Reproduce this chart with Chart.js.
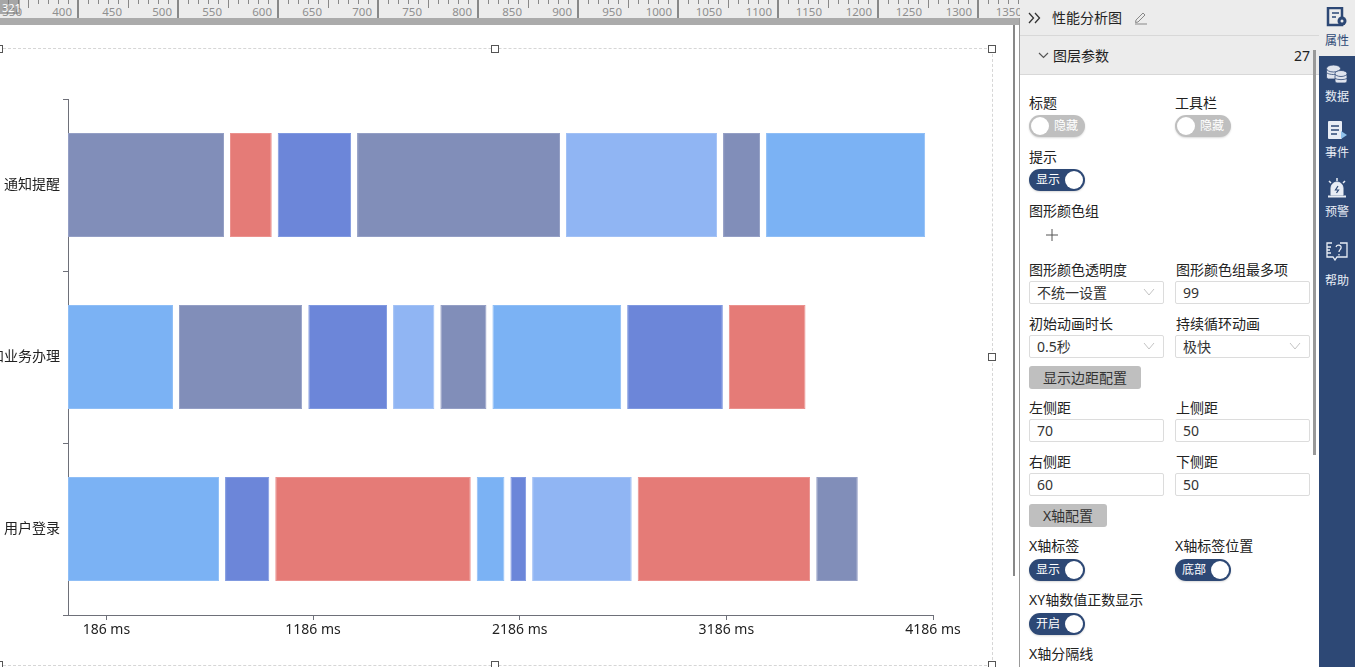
<!DOCTYPE html>
<html>
<head>
<meta charset="utf-8">
<title>性能分析图</title>
<script src="https://cdn.jsdelivr.net/npm/chart.js@4"></script>
<style>
html, body { margin: 0; padding: 0; width: 1355px; height: 667px; overflow: hidden; background: #fff; }
body { font-family: "Noto Sans", "Noto Sans CJK SC", sans-serif; font-size: 14px; color: #222; position: relative; }
#chart { position: absolute; left: 0; top: 0; display: block; }
.abs { position: absolute; }
#ruler { position: absolute; left: 0; top: 0; width: 1020px; height: 18px; background: #ececec; overflow: hidden; }
#rulerBar { position: absolute; left: 0; top: 18px; width: 1020px; height: 7px; background: #ababab; }
#rulerCorner { position: absolute; left: 0; top: 0; width: 20px; height: 14px; background: rgba(120,120,120,.6); color: #fff; font-size: 11px; line-height: 16px; padding-left: 2px; box-sizing: border-box; }
.rt { position: absolute; top: 0; background: #888; }
.rl { position: absolute; top: 3px; font-size: 11.5px; line-height: 18px; color: #8f8f8f; width: 40px; text-align: right; }
.dashH { position: absolute; height: 0; border-top: 1px dashed #d6d6d6; }
.dashV { position: absolute; width: 0; border-left: 1px dashed #d6d6d6; }
.handle { position: absolute; width: 6px; height: 6px; border: 1px solid #555; background: #fff; }
#side { position: absolute; left: 1020px; top: 0; width: 299px; height: 667px; background: #fff; }
.lbl { position: absolute; line-height: 18px; white-space: nowrap; color: #222; }
.head { position: absolute; left: 0; width: 299px; background: #ececec; border-bottom: 1px solid #d8d8d8; }
.tog { position: absolute; width: 56px; height: 22px; border-radius: 11px; color: #fff; font-size: 12px; line-height: 22px; box-shadow: 0 1px 2px rgba(0,0,0,.15); }
.tog.on { background: #2d4875; }
.tog.off { background: #bfbfbf; }
.tog i { position: absolute; top: 2px; width: 18px; height: 18px; border-radius: 50%; background: #fff; }
.tog.on i { right: 2px; }
.tog.off i { left: 2px; }
.tog.on span { position: absolute; left: 7px; }
.tog.off span { position: absolute; right: 7px; }
.inp { position: absolute; width: 135px; height: 23px; box-sizing: border-box; border: 1px solid #dcdcdc; border-radius: 2px; line-height: 21px; padding-left: 7px; background: #fff; color: #333; }
.inp svg { position: absolute; right: 8px; top: 6px; }
.btn { position: absolute; height: 23px; background: #bfbfbf; border-radius: 3px; text-align: center; line-height: 23px; color: #333; }
#nav { position: absolute; left: 1319px; top: 0; width: 36px; height: 667px; background: #2d4875; }
#navTop { position: absolute; left: 0; top: 0; width: 36px; height: 56px; background: #ececec; }
.navt { position: absolute; left: 0; width: 36px; text-align: center; font-size: 12px; line-height: 16px; color: #e8edf5; }
.navi { position: absolute; left: 7px; }
</style>
</head>
<body>
<canvas id="chart" width="1013" height="667"></canvas>

<div id="ruler"></div>
<div id="rulerBar"></div>
<div id="rulerCorner">321</div>

<div class="dashH" style="left:3px;top:48px;width:989px"></div>
<div class="dashV" style="left:992px;top:49px;height:616px"></div>
<div class="dashH" style="left:3px;top:665px;width:989px"></div>
<div class="handle" style="left:-5px;top:45px"></div>
<div class="handle" style="left:491px;top:45px"></div>
<div class="handle" style="left:988px;top:45px"></div>
<div class="handle" style="left:988px;top:353px"></div>
<div class="handle" style="left:-5px;top:661px"></div>
<div class="handle" style="left:491px;top:661px"></div>
<div class="handle" style="left:988px;top:661px"></div>

<div class="abs" style="left:1013px;top:25px;width:2px;height:551px;background:#888"></div>
<div class="abs" style="left:1019px;top:18px;width:1px;height:649px;background:#999"></div>

<div id="side">
  <div class="head" style="top:0;height:35px"></div>
  <div class="head" style="top:36px;height:38px"></div>
  <svg class="abs" style="left:8px;top:12px" width="13" height="12" fill="none" stroke="#333" stroke-width="1.3"><path d="M1 1l4.5 5-4.5 5M7 1l4.5 5-4.5 5"/></svg>
  <div class="lbl" style="left:32px;top:9px">性能分析图</div>
  <svg class="abs" style="left:114px;top:10px" width="15" height="15" fill="none" stroke="#888" stroke-width="1"><path d="M2 10l7-7 2 2-7 7-2.500.5zM1 14h12"/></svg>
  <svg class="abs" style="left:18px;top:52px" width="11" height="7" fill="none" stroke="#555" stroke-width="1.2"><path d="M1 1l4.500 4.500L10 1"/></svg>
  <div class="lbl" style="left:33px;top:47px">图层参数</div>
  <div class="lbl" style="left:274px;top:47px">27</div>
  <div class="abs" style="left:293px;top:50px;width:3px;height:405px;background:#999"></div>

  <div class="lbl" style="left:9px;top:94px">标题</div>
  <div class="lbl" style="left:155px;top:94px">工具栏</div>
  <div class="tog off" style="left:9px;top:115px"><i></i><span>隐藏</span></div>
  <div class="tog off" style="left:155px;top:115px"><i></i><span>隐藏</span></div>

  <div class="lbl" style="left:9px;top:148px">提示</div>
  <div class="tog on" style="left:9px;top:169px"><span>显示</span><i></i></div>

  <div class="lbl" style="left:9px;top:202px">图形颜色组</div>
  <svg class="abs" style="left:26px;top:229px" width="12" height="12" stroke="#555" stroke-width="1"><path d="M6 0v12M0 6h12"/></svg>

  <div class="lbl" style="left:9px;top:261px">图形颜色透明度</div>
  <div class="lbl" style="left:156px;top:261px">图形颜色组最多项</div>
  <div class="inp" style="left:9px;top:281px">不统一设置<svg width="12" height="8" fill="none" stroke="#c4c4c4"><path d="M1 1l5 6 5-6"/></svg></div>
  <div class="inp" style="left:155px;top:281px">99</div>

  <div class="lbl" style="left:9px;top:315px">初始动画时长</div>
  <div class="lbl" style="left:156px;top:315px">持续循环动画</div>
  <div class="inp" style="left:9px;top:335px">0.5秒<svg width="12" height="8" fill="none" stroke="#c4c4c4"><path d="M1 1l5 6 5-6"/></svg></div>
  <div class="inp" style="left:155px;top:335px">极快<svg width="12" height="8" fill="none" stroke="#c4c4c4"><path d="M1 1l5 6 5-6"/></svg></div>

  <div class="btn" style="left:9px;top:366px;width:112px">显示边距配置</div>

  <div class="lbl" style="left:9px;top:399px">左侧距</div>
  <div class="lbl" style="left:156px;top:399px">上侧距</div>
  <div class="inp" style="left:9px;top:419px">70</div>
  <div class="inp" style="left:155px;top:419px">50</div>

  <div class="lbl" style="left:9px;top:453px">右侧距</div>
  <div class="lbl" style="left:156px;top:453px">下侧距</div>
  <div class="inp" style="left:9px;top:473px">60</div>
  <div class="inp" style="left:155px;top:473px">50</div>

  <div class="btn" style="left:9px;top:504px;width:78px">X轴配置</div>

  <div class="lbl" style="left:9px;top:537px">X轴标签</div>
  <div class="lbl" style="left:155px;top:537px">X轴标签位置</div>
  <div class="tog on" style="left:9px;top:559px"><span>显示</span><i></i></div>
  <div class="tog on" style="left:155px;top:559px"><span>底部</span><i></i></div>

  <div class="lbl" style="left:9px;top:591px">XY轴数值正数显示</div>
  <div class="tog on" style="left:9px;top:613px"><span>开启</span><i></i></div>

  <div class="lbl" style="left:9px;top:645px">X轴分隔线</div>
</div>

<div id="nav">
  <div id="navTop"></div>
  <svg class="navi" style="top:7px" width="22" height="20"><path d="M2 1h14v17H2z" fill="none" stroke="#2d4875" stroke-width="2.500"/><path d="M6 6h7M6 10h4" stroke="#2d4875" stroke-width="1.500"/><circle cx="16" cy="14" r="4.500" fill="#2d4875"/><circle cx="16" cy="14" r="1.500" fill="#ececec"/></svg>
  <div class="navt" style="top:33px;color:#2d4875">属性</div>
  <svg class="navi" style="top:64px" width="22" height="20" fill="#dfe4ee" stroke="#2d4875" stroke-width="0.8"><rect x="0.500" y="5" width="14" height="10" rx="2"/><ellipse cx="7.500" cy="4.500" rx="7" ry="3.500"/><path d="M1 9c3 2 10 2 13 0"/><rect x="9" y="10" width="12" height="9" rx="2"/><ellipse cx="15" cy="9.500" rx="6" ry="3"/><path d="M9 14.500c3 1.500 9 1.500 12 0"/></svg>
  <div class="navt" style="top:89px">数据</div>
  <svg class="navi" style="top:121px" width="22" height="20"><rect x="2" y="0" width="14" height="18" rx="1" fill="#e8edf5"/><path d="M5 5h8M5 9h8M5 13h6" stroke="#2d4875" stroke-width="1.500"/><path d="M15 10l6 4-6 4z" fill="#8fc1ea"/></svg>
  <div class="navt" style="top:145px">事件</div>
  <svg class="navi" style="top:178px" width="22" height="20" fill="none" stroke="#e8edf5"><path d="M5 17v-7a6 6 0 0 1 12 0v7z" fill="#e8edf5"/><path d="M2 18.500h18" stroke-width="2"/><path d="M11 0v3M3 3l2 2M19 3l-2 2" stroke-width="1.500"/><path d="M12 8l-2.500 4h3l-2 3" stroke="#2d4875" stroke-width="1.200"/></svg>
  <div class="navt" style="top:204px">预警</div>
  <svg class="navi" style="top:241px" width="22" height="20" fill="none" stroke="#e8edf5" stroke-width="1.300"><path d="M6 2H1v14h6l2 3 2-3h10V2h-7M1 6h4M1 9h3M1 12h4"/><path d="M10 6c1-3 6-2 5 1-.5 2-2 2-2 4M13 13v1.500"/></svg>
  <div class="navt" style="top:273px">帮助</div>
</div>

<script>
// y axis, top to bottom
const categories = ['通知提醒', '和业务办理', '用户登录'];

// x axis ticks
const tickValues = [186, 1186, 2186, 3186, 4186];
const axisMin = 0;
const axisMax = 4186;

// segment start / end in ms for each row
const notifyStarts = [0, 784, 1015, 1399, 2410, 3170, 3378];
const notifyEnds = [755, 986, 1370, 2381, 3141, 3349, 4148];
const businessStarts = [0, 537, 1163, 1573, 1802, 2054, 2706, 3198];
const businessEnds = [508, 1133, 1544, 1773, 2025, 2677, 3169, 3569];
const loginStarts = [0, 760, 1003, 1978, 2141, 2246, 2757, 3621];
const loginEnds = [731, 974, 1949, 2112, 2217, 2728, 3591, 3822];

// which colour each segment has
const notifyKinds = ['slate', 'red', 'blue', 'slate', 'light', 'slate', 'sky'];
const businessKinds = ['sky', 'slate', 'blue', 'light', 'slate', 'sky', 'blue', 'red'];
const loginKinds = ['sky', 'blue', 'red', 'sky', 'blue', 'light', 'red', 'slate'];

const fills = { slate: '#818eb9', red: '#e57b77', blue: '#6c86d9', light: '#90b5f3', sky: '#7bb2f4' };
const edges = { slate: '#949fc5', red: '#eb918e', blue: '#8099e0', light: '#a2c1f5', sky: '#8fbef6' };
const axisColor = '#6e7079';
const fontFamily = '"Noto Sans", "Noto Sans CJK SC", sans-serif';

// ruler along the top of the editor
const ruler = document.getElementById('ruler');
for (let i = 0; i * 10 + 7.5 < 1020; i++) {
    const x = i * 10 + 7.5;
    const t = document.createElement('div');
    t.className = 'rt';
    const major = (i + 3) % 10 === 0;
    const mid = (i + 3) % 5 === 0;
    t.style.left = (major ? x - 0.5 : x) + 'px';
    t.style.width = major ? '2px' : '1px';
    t.style.height = major ? '18px' : mid ? '8px' : '4px';
    ruler.appendChild(t);
}
for (let v = 350; v <= 1350; v += 50) {
    const l = document.createElement('div');
    l.className = 'rl';
    l.style.left = (v - 368) + 'px';
    l.textContent = v;
    ruler.appendChild(l);
}

const rows = [
    [notifyStarts, notifyEnds, notifyKinds],
    [businessStarts, businessEnds, businessKinds],
    [loginStarts, loginEnds, loginKinds]
];

// one dataset per segment slot, each with one bar per row
const datasets = [];
for (let j = 0; j < 8; j++) {
    datasets.push({
        data: rows.map(r => (j < r[0].length ? [r[0][j], r[1][j]] : null)),
        backgroundColor: rows.map(r => fills[r[2][j]] || 'transparent'),
        borderColor: rows.map(r => edges[r[2][j]] || 'transparent'),
        borderWidth: 1,
        borderSkipped: false,
        barPercentage: 0.605,
        categoryPercentage: 1,
        grouped: false
    });
}

new Chart(document.getElementById('chart'), {
    type: 'bar',
    data: { labels: categories, datasets: datasets },
    options: {
        indexAxis: 'y',
        responsive: false,
        animation: false,
        events: [],
        layout: { autoPadding: false, padding: { top: 99, left: 0, right: 80, bottom: 12 } },
        plugins: { legend: { display: false }, tooltip: { enabled: false } },
        scales: {
            x: {
                type: 'linear',
                min: axisMin,
                max: axisMax,
                afterBuildTicks: scale => { scale.ticks = tickValues.map(v => ({ value: v })); },
                afterFit: scale => { scale.height = 40; },
                grid: { drawOnChartArea: false, color: axisColor, tickLength: 5, tickWidth: 1 },
                border: { color: axisColor, width: 1 },
                ticks: {
                    autoSkip: false,
                    maxRotation: 0,
                    padding: 2,
                    color: '#222',
                    font: { family: fontFamily, size: 14 },
                    callback: v => v + ' ms'
                }
            },
            y: {
                type: 'category',
                offset: true,
                afterFit: scale => { scale.width = 68; },
                grid: { drawOnChartArea: false, offset: true, color: axisColor, tickLength: 5, tickWidth: 1 },
                border: { color: axisColor, width: 1 },
                ticks: {
                    padding: 3,
                    color: '#222',
                    font: { family: fontFamily, size: 14 }
                }
            }
        }
    }
});
</script>
</body>
</html>
